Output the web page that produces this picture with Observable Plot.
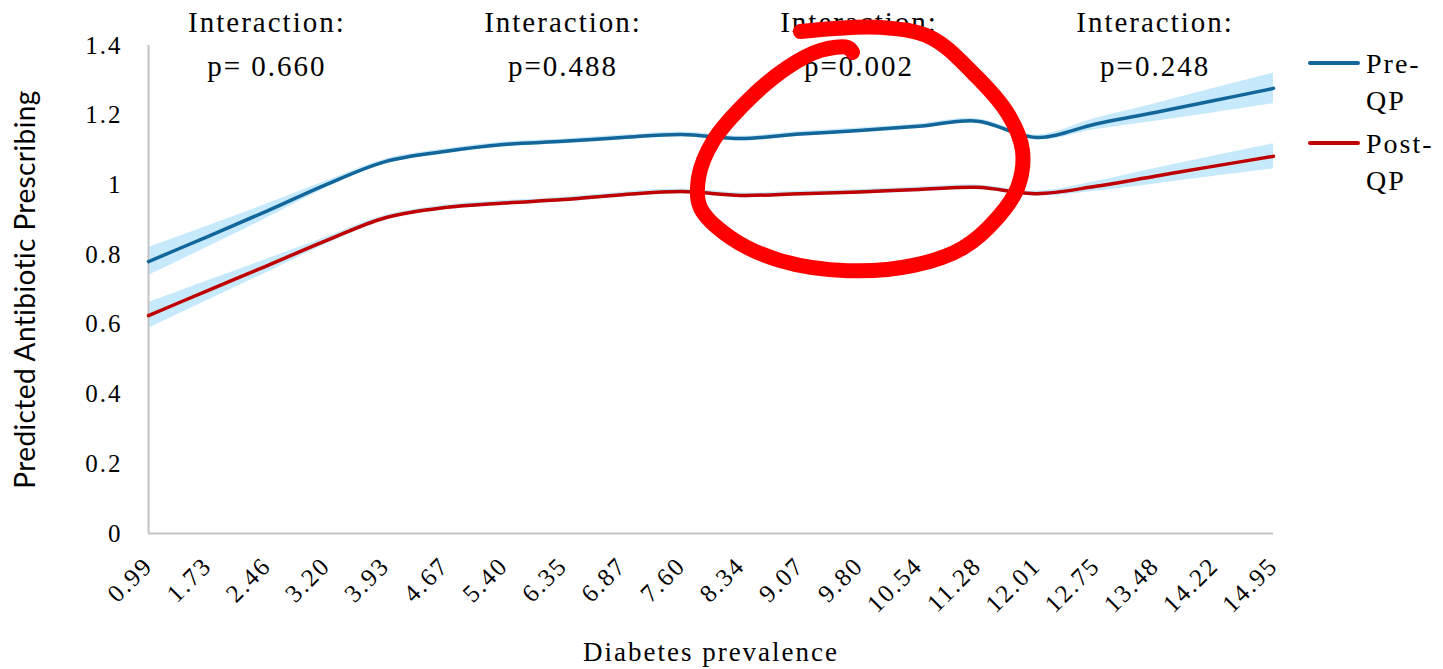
<!DOCTYPE html>
<html>
<head>
<meta charset="utf-8">
<script src="https://cdn.jsdelivr.net/npm/d3@7"></script>
<script src="https://cdn.jsdelivr.net/npm/@observablehq/plot@0.6"></script>
<style>
  html, body { margin: 0; padding: 0; background: #fff; }
  #wrap { position: relative; width: 1443px; height: 669px; overflow: hidden; background: #fff; }
  #legend { position: absolute; left: 1308px; top: 45px; font-family: "Liberation Serif", serif; font-size: 28px; line-height: 37px; letter-spacing: 2px; color: #000; }
  .item { display: flex; align-items: flex-start; margin-bottom: 6px; }
  .swatch { width: 52px; height: 4px; margin-top: 16px; margin-right: 6px; border-radius: 2px; }
  .name { width: 80px; }
</style>
</head>
<body>
<div id="wrap">
  <div id="chart"></div>
  <div id="legend"></div>
</div>
<script>
// Diabetes prevalence categories along the x axis
const prevalence = ["0.99","1.73","2.46","3.20","3.93","4.67","5.40","6.35","6.87","7.60",
                    "8.34","9.07","9.80","10.54","11.28","12.01","12.75","13.48","14.22","14.95"];

// Predicted antibiotic prescribing, before quality premium (Pre-QP)
const preQP     = [0.780,0.852,0.925,1.001,1.067,1.096,1.116,1.125,1.136,1.145,1.133,1.146,1.156,1.168,1.183,1.136,1.175,1.208,1.242,1.277];
const preQPLow  = [0.740,0.822,0.905,0.991,1.060,1.089,1.109,1.118,1.129,1.138,1.126,1.139,1.149,1.161,1.176,1.129,1.159,1.183,1.207,1.233];
const preQPHigh = [0.820,0.882,0.945,1.011,1.074,1.103,1.123,1.132,1.143,1.152,1.140,1.153,1.163,1.175,1.190,1.143,1.191,1.233,1.277,1.321];

// Predicted antibiotic prescribing, after quality premium (Post-QP)
const postQP     = [0.625,0.697,0.768,0.840,0.906,0.935,0.948,0.958,0.972,0.981,0.970,0.975,0.980,0.987,0.993,0.975,0.996,1.025,1.054,1.082];
const postQPLow  = [0.588,0.669,0.749,0.830,0.899,0.928,0.941,0.951,0.965,0.974,0.963,0.968,0.973,0.980,0.986,0.968,0.982,1.003,1.025,1.046];
const postQPHigh = [0.662,0.725,0.787,0.850,0.913,0.942,0.955,0.965,0.979,0.988,0.977,0.982,0.987,0.994,1.000,0.982,1.010,1.047,1.083,1.118];

// Interaction p-values per prevalence quarter, anchored at each quarter's middle category
const interactionAt = ["2.46","6.35","9.80","13.48"];
const interactionP  = ["p= 0.660","p=0.488","p=0.002","p=0.248"];

// Hand-drawn highlight around the significant quarter (category position, prescribing value)
const highlightX = [11.01,12.36,13.21,13.93,14.51,14.76,14.68,14.34,13.76,12.92,11.81,10.67,9.83,9.32,9.29,9.54,10.12,10.79,11.35,11.81,11.89];
const highlightY = [1.440,1.452,1.423,1.320,1.205,1.099,0.993,0.906,0.820,0.769,0.754,0.783,0.849,0.935,1.021,1.127,1.242,1.337,1.386,1.394,1.380];

const seriesNames  = ["Pre-QP", "Post-QP"];
const seriesColors = ["#12669a", "#c00000"];
const bandColor = "#c6e9fb";

const rows = prevalence.map((label, i) => ({
  i, label,
  pre: preQP[i], preLow: preQPLow[i], preHigh: preQPHigh[i],
  post: postQP[i], postLow: postQPLow[i], postHigh: postQPHigh[i]
}));
const notes = interactionAt.map((c, k) => ({ i: prevalence.indexOf(c), p: interactionP[k] }));
const highlight = highlightX.map((x, k) => ({ x, y: highlightY[k] }));

const serif = "Liberation Serif";

const chart = Plot.plot({
  width: 1443,
  height: 669,
  marginLeft: 148,
  marginRight: 170,
  marginTop: 45,
  marginBottom: 136,
  style: { fontFamily: serif, fontSize: "25px", letterSpacing: "2px", color: "#000", background: "#fff", overflow: "visible" },
  x: {
    domain: [0, prevalence.length - 1],
    ticks: d3.range(prevalence.length),
    tickFormat: i => prevalence[i],
    tickRotate: -45,
    tickSize: 0,
    tickPadding: 28,
    label: null
  },
  y: {
    domain: [0, 1.4],
    ticks: d3.ticks(0, 1.4, 7),
    tickFormat: d3.format("~g"),
    tickSize: 0,
    tickPadding: 26,
    label: null
  },
  marks: [
    Plot.areaY(rows, { x: "i", y1: "preLow", y2: "preHigh", fill: bandColor, curve: "catmull-rom" }),
    Plot.areaY(rows, { x: "i", y1: "postLow", y2: "postHigh", fill: bandColor, curve: "catmull-rom" }),
    Plot.ruleX([0], { stroke: "#c4c4c4", strokeWidth: 2 }),
    Plot.ruleY([0], { stroke: "#c4c4c4", strokeWidth: 2 }),
    Plot.line(rows, { x: "i", y: "pre", stroke: seriesColors[0], strokeWidth: 3.5, curve: "catmull-rom" }),
    Plot.line(rows, { x: "i", y: "post", stroke: seriesColors[1], strokeWidth: 3.5, curve: "catmull-rom" }),
    Plot.text(notes, { x: "i", frameAnchor: "top", lineAnchor: "middle", dy: -23, text: () => "Interaction:", fontSize: 29, fill: "#000" }),
    Plot.text(notes, { x: "i", frameAnchor: "top", lineAnchor: "middle", dy: 21, text: "p", fontSize: 29, fill: "#000" }),
    Plot.text(["Diabetes prevalence"], { frameAnchor: "bottom", lineAnchor: "middle", dy: 119, fontSize: 27, fill: "#000" }),
    Plot.text(["Predicted Antibiotic Prescribing"], { frameAnchor: "left", textAnchor: "middle", lineAnchor: "middle", dx: -122, rotate: -90, fontSize: 28, fontFamily: "Lato", fill: "#000" }),
    Plot.line(highlight, { x: "x", y: "y", stroke: "#ff0000", strokeWidth: 15, strokeLinecap: "round", strokeLinejoin: "round", curve: "catmull-rom" })
  ]
});
chart.querySelectorAll("text").forEach(t => {
  if (t.textContent === "Predicted Antibiotic Prescribing") t.style.letterSpacing = "0.4px";
});
document.getElementById("chart").appendChild(chart);

// Legend: line swatch plus wrapped series name
const legend = d3.select("#legend");
seriesNames.forEach((name, k) => {
  const item = legend.append("div").attr("class", "item");
  item.append("div").attr("class", "swatch").style("background", seriesColors[k]);
  item.append("div").attr("class", "name").text(name);
});
</script>
</body>
</html>
